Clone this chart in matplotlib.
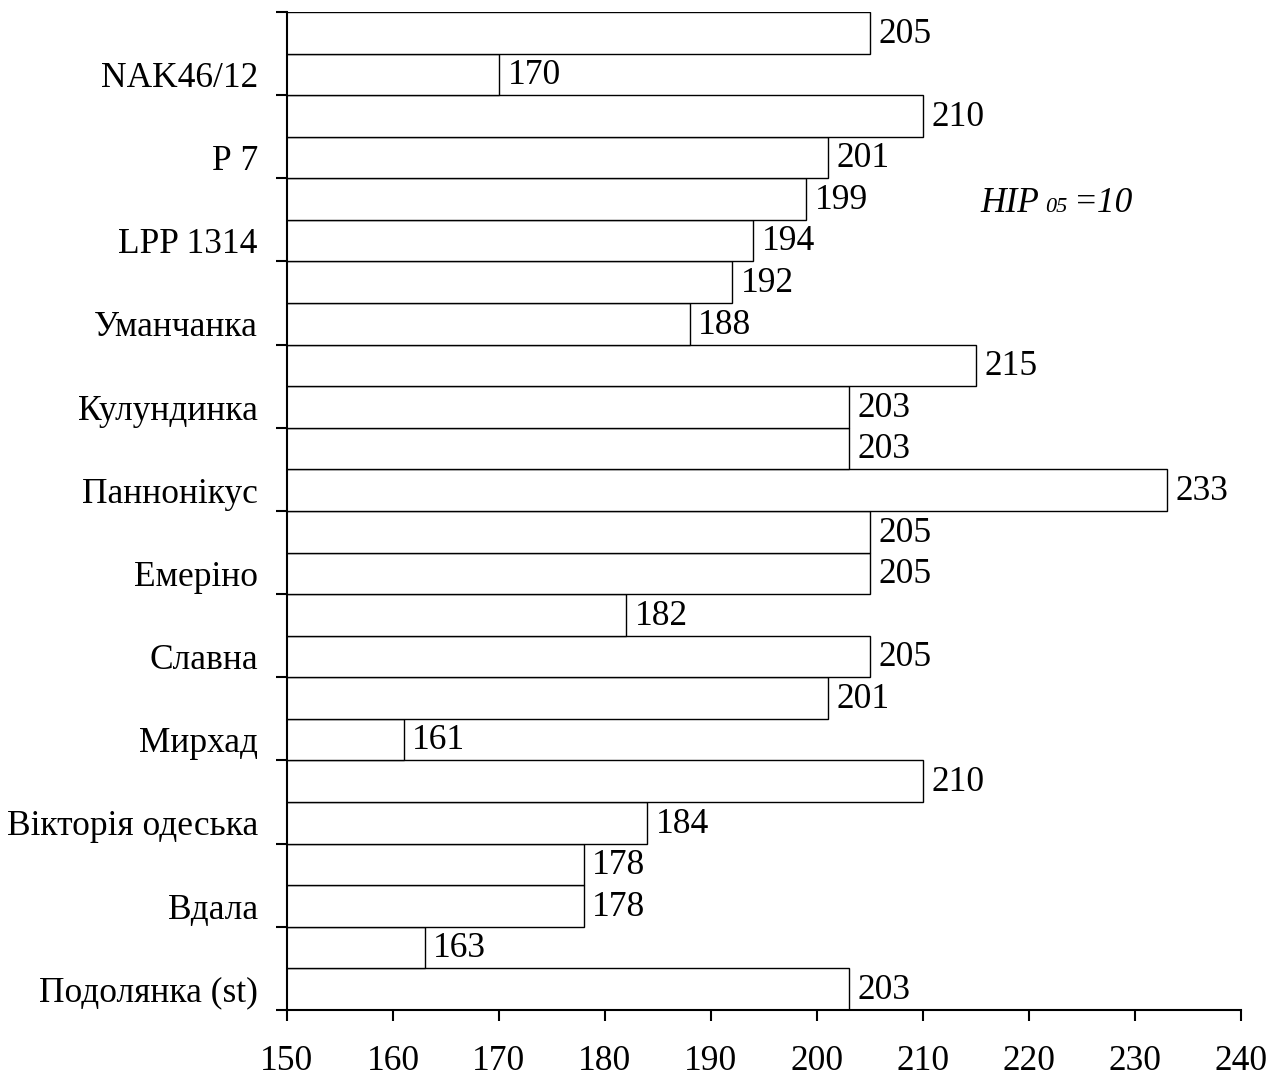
import matplotlib
matplotlib.use('Agg')
import matplotlib.pyplot as plt
import numpy as np

plt.rcParams['font.family'] = ['Liberation Serif', 'DejaVu Serif']

# varieties, bottom to top (each has two bars)
varieties = ['Подолянка (st)', 'Вдала', 'Вікторія одеська', 'Мирхад', 'Славна', 'Емеріно',
             'Паннонікус', 'Кулундинка', 'Уманчанка', 'LPP 1314', 'Р 7', 'NAK46/12']
# bar values, bottom to top: first bar of a pair is the labelled one
values = [203, 163, 178, 178, 184, 210, 161, 201, 205, 182, 205, 205,
          233, 203, 203, 215, 188, 192, 194, 199, 201, 210, 170, 205]
xticks = [150, 160, 170, 180, 190, 200, 210, 220, 230, 240]
nir_parts = ['НІР', '05', '=10']

fs = 25.5

fig = plt.figure(figsize=(12.77, 10.81), dpi=100)
ax = fig.add_axes([0.2247, 0.0657, 0.7471, 0.9232])

y = np.arange(len(values))
ax.barh(y, values, height=1.0, color='white', edgecolor='black', linewidth=1.0)

for yi, v in zip(y, values):
    ax.text(v + 0.8, yi - 0.03, str(v), va='center', ha='left', fontsize=fs)

ax.set_xlim(150, 240)
ax.set_ylim(-0.5, len(values) - 0.5)
ax.set_xticks(xticks)
ax.set_xticklabels([str(t) for t in xticks], fontsize=fs)

# category boundaries get tick marks, labels sit on the lower bar of each pair
ax.set_yticks(np.arange(-0.5, len(values), 2))
ax.set_yticklabels([])
ax.set_yticks(np.arange(0, len(values), 2), minor=True)
ax.set_yticklabels(varieties, minor=True, fontsize=fs)
ax.tick_params(axis='y', which='major', direction='out', length=8, width=1.5)
ax.tick_params(axis='y', which='minor', length=0, pad=21)
ax.tick_params(axis='x', direction='out', length=8, width=1.5, pad=17.5)

for s in ['top', 'right']:
    ax.spines[s].set_visible(False)
for s in ['left', 'bottom']:
    ax.spines[s].set_linewidth(1.5)

# НІР05 = 10, subscript sits on the same baseline, just smaller
ax.text(215.4, 18.69, nir_parts[0], fontsize=fs, style='italic', va='baseline', ha='left')
ax.text(221.5, 18.69, nir_parts[1], fontsize=16, style='italic', va='baseline', ha='left')
ax.text(224.2, 18.69, nir_parts[2], fontsize=fs, style='italic', va='baseline', ha='left')

fig.savefig('out.png', dpi=100)
